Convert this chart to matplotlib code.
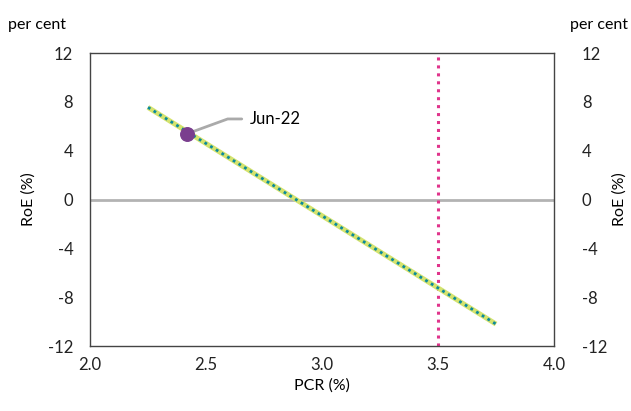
import matplotlib
matplotlib.use("Agg")
import matplotlib.pyplot as plt

plt.rcParams['font.family'] = ['Lato', 'DejaVu Sans']
plt.rcParams['axes.unicode_minus'] = False

# data
pcr = [2.25, 3.75]
roe = [7.55, -10.2]
point_pcr = [2.42]
point_roe = [5.4]
point_label = "Jun-22"
threshold = 3.5
yticks = [-12, -8, -4, 0, 4, 8, 12]
xticks = [2.0, 2.5, 3.0, 3.5, 4.0]

fig = plt.figure(figsize=(6.31, 4.11), dpi=100)
ax = fig.add_axes([0.1426, 0.158, 0.7354, 0.713])

ax.axhline(0, color='#b3b3b3', lw=2, zorder=1)
ax.axvline(threshold, color='#e0348c', lw=2.2, ls=(0, (1, 1.6)), zorder=2)
ax.plot(pcr, roe, color='#d5e36e', lw=3.6, solid_capstyle='butt', zorder=3)
ax.plot(pcr, roe, color='#0b8a9c', lw=2.0, ls=(0, (1, 1.4)), zorder=4)
ax.scatter(point_pcr, point_roe, s=95, color='#7a3e8e', zorder=5)
ax.annotate(point_label, xy=(point_pcr[0], point_roe[0]), xytext=(2.69, 6.6),
            fontsize=12, va='center', ha='left',
            arrowprops=dict(arrowstyle='-', color='#aaaaaa', lw=2,
                            connectionstyle='angle,angleA=0,angleB=20,rad=0',
                            shrinkA=4, shrinkB=2))

ax.set_xlim(2.0, 4.0)
ax.set_ylim(-12, 12)
ax.set_xticks(xticks)
ax.set_xticklabels([f'{v:.1f}' for v in xticks])
ax.set_yticks(yticks)
ax.tick_params(length=0, labelsize=12, pad=8, colors='#222222')
ax.tick_params(axis='y', pad=12)
for s in ax.spines.values():
    s.set_color('#444444')
    s.set_linewidth(1)

ax.set_xlabel('PCR (%)', fontsize=11.5, labelpad=4)
ax.set_ylabel('RoE (%)', fontsize=11.5, labelpad=9)

axr = ax.twinx()
axr.set_ylim(-12, 12)
axr.set_yticks(yticks)
axr.tick_params(length=0, labelsize=12, pad=20, colors='#222222')
axr.set_ylabel('RoE (%)', fontsize=11.5, labelpad=4, rotation=90)
for s in axr.spines.values():
    s.set_visible(False)

fig.text(0.013, 0.94, 'per cent', fontsize=11.5, ha='left', va='center')
fig.text(0.995, 0.94, 'per cent', fontsize=11.5, ha='right', va='center')

fig.savefig('out.png', dpi=100)
